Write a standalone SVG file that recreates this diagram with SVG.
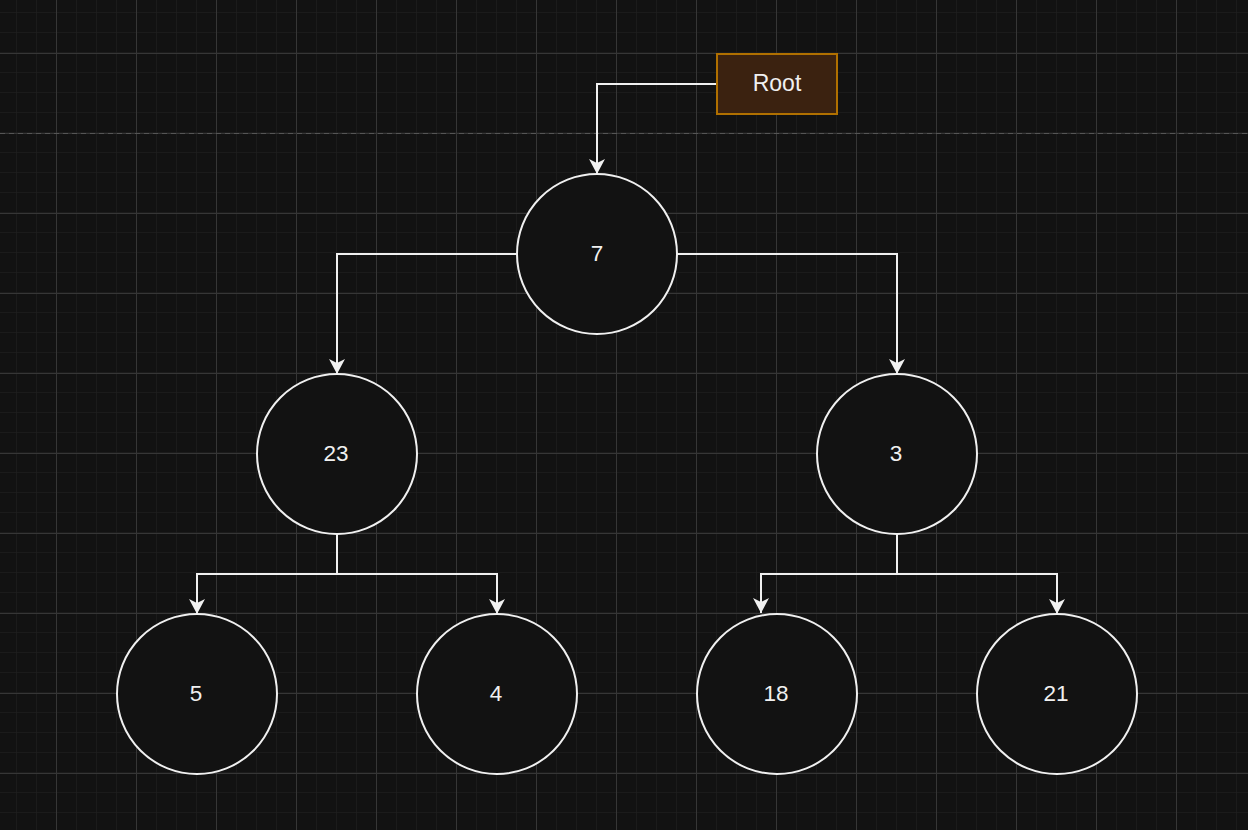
<svg xmlns="http://www.w3.org/2000/svg" width="1248" height="830" viewBox="0 0 1248 830">
<defs>
<pattern id="minor" x="16" y="12" width="20" height="20" patternUnits="userSpaceOnUse">
<path d="M0,0 H20 M0,0 V20" fill="none" stroke="#1e1e1e" stroke-width="1.5"/>
</pattern>
<pattern id="major" x="56" y="53" width="80" height="80" patternUnits="userSpaceOnUse">
<path d="M0,0.5 H80 M0.5,0 V80" fill="none" stroke="#363636" stroke-width="1"/>
</pattern>
<marker id="arr" markerWidth="16" markerHeight="16" refX="15" refY="8" orient="auto" markerUnits="userSpaceOnUse">
<path d="M0,0 L15,8 L0,16 L4,8 Z" fill="#f0f0f0"/>
</marker>
<style>
.node circle{fill:#121212;stroke:#f0f0f0;stroke-width:2}
.node text{font-family:"Liberation Sans",Arial,sans-serif;font-size:22.5px;fill:#f0f0f0;text-anchor:middle;dominant-baseline:central}
.edge{fill:none;stroke:#f0f0f0;stroke-width:2;marker-end:url(#arr)}
</style>
</defs>
<rect width="1248" height="830" fill="#121212"/>
<rect width="1248" height="830" fill="url(#minor)"/>
<rect width="1248" height="830" fill="url(#major)"/>
<line x1="0" y1="133.5" x2="1248" y2="133.5" stroke="#555" stroke-width="1" stroke-dasharray="5,4"/>
<g id="connectors">
<path class="edge" d="M717,84 H597 V174"/>
<path class="edge" d="M517,254 H337 V374"/>
<path class="edge" d="M677,254 H897 V374"/>
<path class="edge" d="M337,534 V574 H197 V614"/>
<path class="edge" d="M337,534 V574 H497 V614"/>
<path class="edge" d="M897,534 V574 H761 V613"/>
<path class="edge" d="M897,534 V574 H1057 V614"/>
</g>
<g id="root" class="node">
<rect x="717" y="54" width="120" height="60" fill="#3b2210" stroke="#b07000" stroke-width="2"/>
<text x="777" y="83" style="font-size:23px">Root</text>
</g>
<g id="n7" class="node"><circle cx="597" cy="254" r="80"/><text x="597" y="253">7</text></g>
<g id="n23" class="node"><circle cx="337" cy="454" r="80"/><text x="336" y="453">23</text></g>
<g id="n3" class="node"><circle cx="897" cy="454" r="80"/><text x="896" y="453">3</text></g>
<g id="n5" class="node"><circle cx="197" cy="694" r="80"/><text x="196" y="693">5</text></g>
<g id="n4" class="node"><circle cx="497" cy="694" r="80"/><text x="496" y="693">4</text></g>
<g id="n18" class="node"><circle cx="777" cy="694" r="80"/><text x="776" y="693">18</text></g>
<g id="n21" class="node"><circle cx="1057" cy="694" r="80"/><text x="1056" y="693">21</text></g>
</svg>
